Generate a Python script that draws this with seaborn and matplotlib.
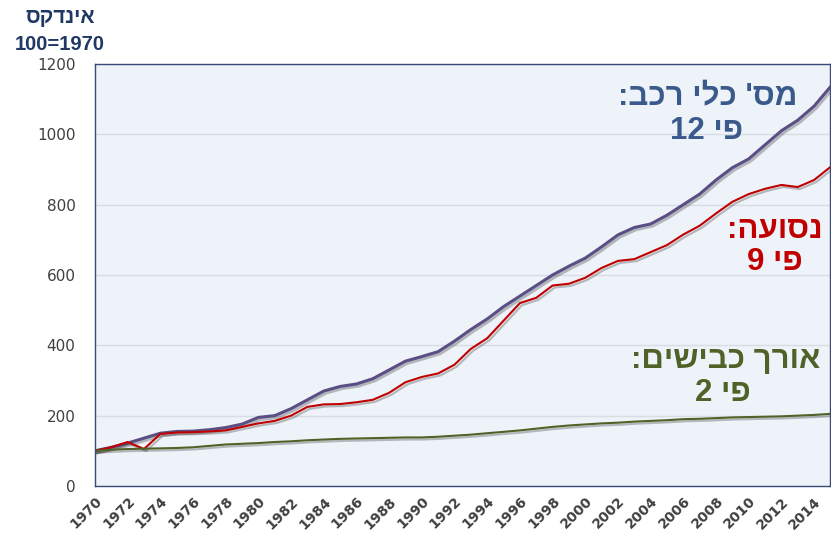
import numpy as np
import pandas as pd
import matplotlib
matplotlib.use("Agg")
import matplotlib.pyplot as plt
import matplotlib.patheffects as pe
import seaborn as sns

# index 1970 = 100
years = list(range(1970, 2016))
vehicles = [100, 110, 122, 136, 150, 155, 156, 160, 166, 176, 195, 200, 220, 245, 270, 283,
            290, 305, 330, 355, 368, 382, 412, 445, 475, 510, 540, 570, 600, 625, 648, 680,
            714, 735, 745, 770, 800, 830, 870, 905, 930, 970, 1010, 1040, 1080, 1135]
travel = [100, 110, 125, 105, 148, 152, 153, 155, 158, 168, 178, 185, 200, 225, 232, 233,
          238, 245, 265, 295, 310, 320, 345, 390, 420, 470, 520, 535, 570, 575, 592, 620,
          640, 645, 665, 685, 715, 740, 775, 808, 830, 845, 856, 850, 870, 907]
roads = [100, 103, 105, 106, 107, 108, 110, 114, 118, 120, 122, 125, 127, 130, 132, 134,
         135, 136, 137, 138, 138, 140, 143, 146, 150, 154, 158, 163, 168, 172, 175, 178,
         180, 183, 185, 187, 190, 191, 193, 195, 196, 197, 198, 200, 202, 205]

series_names = ["vehicles", "travel", "roads"]
series_colors = ["#5b4e85", "#c00000", "#4f6228"]


def visual(s):
    # matplotlib has no bidi: flip the hebrew, keep digit runs in order
    out = s[::-1]
    parts, run = [], ""
    for ch in out:
        if ch.isdigit():
            run += ch
        else:
            if run:
                parts.append(run[::-1])
                run = ""
            parts.append(ch)
    if run:
        parts.append(run[::-1])
    return "".join(parts)


df = pd.DataFrame({"year": years, "vehicles": vehicles, "travel": travel, "roads": roads})
long_df = df.melt(id_vars="year", var_name="series", value_name="index")

fig = plt.figure(figsize=(8.31, 5.38), dpi=100)
ax = fig.add_axes([0.1143, 0.0967, 0.885, 0.7844])
ax.set_facecolor("#eef3f9")

sns.lineplot(data=long_df, x="year", y="index", hue="series", hue_order=series_names,
             palette=series_colors, linewidth=1.5, legend=False, ax=ax)
for line in ax.get_lines():
    line.set_path_effects([pe.SimpleLineShadow(offset=(1.5, -1.5), alpha=0.25),
                           pe.Normal()])
ax.get_lines()[0].set_linewidth(2.2)

ax.set_xlim(1970, 2015)
ax.set_ylim(0, 1200)
ax.set_yticks(range(0, 1201, 200))
ax.set_xticks(range(1970, 2015, 2))
ax.set_xticklabels([str(y) for y in range(1970, 2015, 2)], rotation=45, ha="right",
                   rotation_mode="anchor", fontsize=10, fontweight="bold", color="#404040")
ax.tick_params(axis="y", labelsize=11, labelcolor="#404040", length=0, pad=14)
ax.tick_params(axis="x", length=0, pad=6)
ax.grid(axis="y", color="#d8dde3", linewidth=1)
ax.set_axisbelow(True)
ax.set_xlabel("")
ax.set_ylabel("")
for s in ax.spines.values():
    s.set_color("#3a4a78")
    s.set_linewidth(1)

fam = ["Liberation Sans", "DejaVu Sans"]
fig.text(0.072, 0.968, visual("אינדקס"), ha="center", va="center", fontsize=15,
         fontweight="bold", color="#1f3864", family=fam)
fig.text(0.072, 0.918, "100=1970", ha="center", va="center", fontsize=14.5,
         fontweight="bold", color="#1f3864", family=fam)

ax.text(2007.5, 1106, visual("מס' כלי רכב:"), ha="center", va="center", fontsize=22.5,
        fontweight="bold", color="#3b5a8c", family=fam)
ax.text(2007.4, 1010, visual("פי 12"), ha="center", va="center", fontsize=22.5,
        fontweight="bold", color="#3b5a8c", family=fam)
ax.text(2011.6, 728, visual("נסועה:"), ha="center", va="center", fontsize=22.5,
        fontweight="bold", color="#c00000", family=fam)
ax.text(2011.6, 637, visual("פי 9"), ha="center", va="center", fontsize=22.5,
        fontweight="bold", color="#c00000", family=fam)
ax.text(2008.6, 358, visual("אורך כבישים:"), ha="center", va="center", fontsize=22.5,
        fontweight="bold", color="#4f6228", family=fam)
ax.text(2008.4, 264, visual("פי 2"), ha="center", va="center", fontsize=22.5,
        fontweight="bold", color="#4f6228", family=fam)

fig.savefig("out.png", dpi=100, facecolor="white")
